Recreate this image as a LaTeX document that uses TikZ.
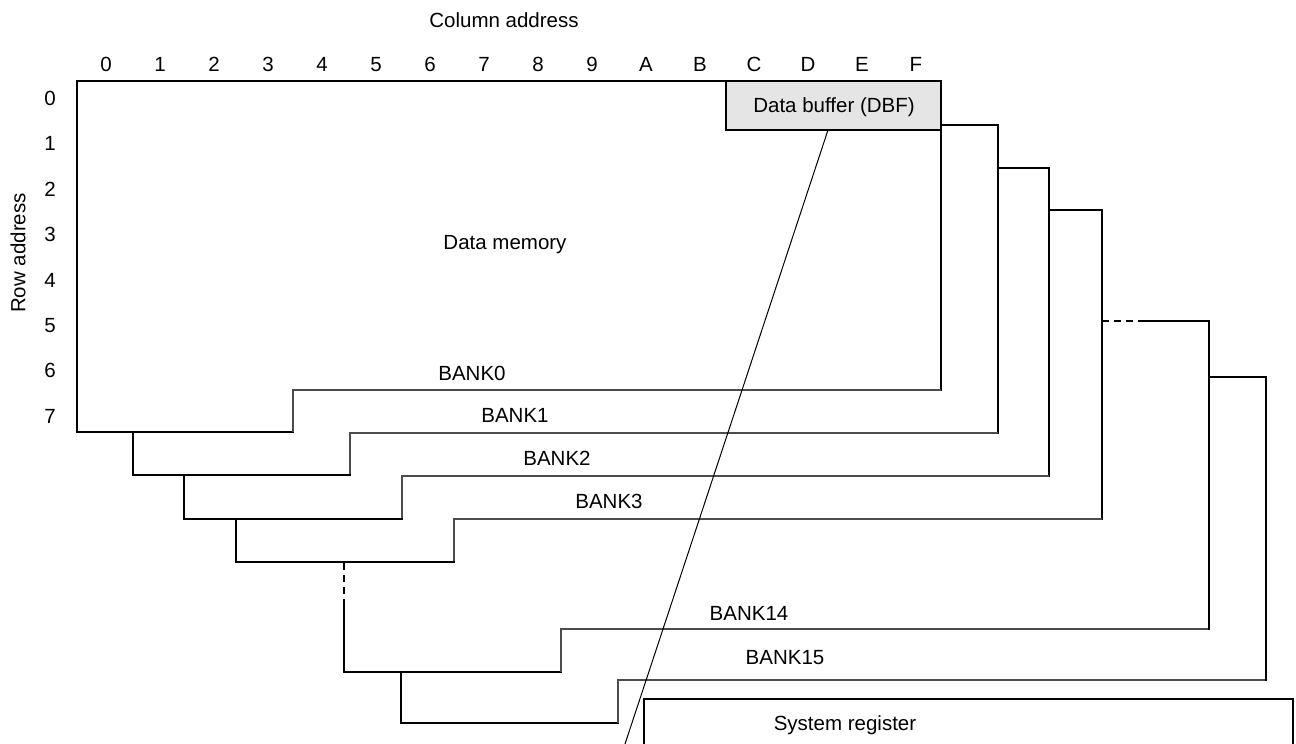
\documentclass[tikz,border=0pt]{standalone}
\usepackage{fontspec}
\setmainfont{Liberation Sans}
\begin{document}
\begin{tikzpicture}[x=1pt,y=-1pt,
  lbl/.style={font=\fontsize{20.5}{24}\selectfont, inner sep=0pt},
  dig/.style={lbl, anchor=base},
  thickln/.style={line width=2.9pt, black, line join=miter, line cap=rect},
  thinln/.style={line width=1.2pt, black!70},
  dashln/.style={line width=2.9pt, black, dash pattern=on 7pt off 5pt},
  diag/.style={line width=1pt, black}]
\useasboundingbox (0,0) rectangle (1296,744);
% titles
\node[lbl] (coltitle) at (504,20) {Column address};
\node[lbl, rotate=90] (rowtitle) at (18,253) {Row address};
% column labels
\foreach \c [count=\i from 0] in {0,1,2,3,4,5,6,7,8,9,A,B,C,D,E,F}
  \node[dig] (col\i) at ({106+54*\i},71.5) {\c};
% row labels
\foreach \r in {0,...,7}
  \node[dig] (row\r) at (50,{105.5+45.4*\r}) {\r};
% data buffer
\fill[black!10] (726,81) rectangle (941,130);
\draw[thinln, black] (726,81) -- (726,130) -- (941,130);
\node[lbl] (dbf) at (834,107) {Data buffer (DBF)};
% BANK0
\draw[thickln] (293,432) -- (77,432) -- (77,81) -- (941,81) -- (941,390);
\draw[thinln] (941,390) -- (293,390) -- (293,432);
% BANK1
\draw[thickln] (941,125) -- (998,125) -- (998,433);
\draw[thinln] (998,433) -- (350,433) -- (350,475);
\draw[thickln] (350,475) -- (133,475) -- (133,432);
% BANK2
\draw[thickln] (998,168) -- (1049,168) -- (1049,476);
\draw[thinln] (1049,476) -- (402,476) -- (402,519);
\draw[thickln] (402,519) -- (184,519) -- (184,475);
% BANK3
\draw[thickln] (1049,210) -- (1102,210) -- (1102,519);
\draw[thinln] (1102,519) -- (454,519) -- (454,562);
\draw[thickln] (454,562) -- (236,562) -- (236,519);
% gap and BANK14
\draw[dashln] (344,563) -- (344,603);
\draw[thickln] (344,603) -- (344,672) -- (561,672);
\draw[thinln] (561,672) -- (561,629) -- (1209,629);
\draw[thickln] (1209,629) -- (1209,321) -- (1139,321);
\draw[dashln] (1102,321) -- (1139,321);
% BANK15
\draw[thickln] (401,672) -- (401,723) -- (618,723);
\draw[thinln] (618,723) -- (618,680) -- (1266,680);
\draw[thickln] (1266,680) -- (1266,377) -- (1209,377);
% system register
\draw[line width=1.2pt] (644,744) -- (644,699) -- (1293,699);
\draw[line width=2pt] (1293,698.4) -- (1293,744);
\node[lbl] (sysreg) at (845,725) {System register};
% labels
\node[lbl] (dmem) at (505,245) {Data memory};
\node[lbl] (b0) at (472,373) {BANK0};
\node[lbl] (b1) at (515,415) {BANK1};
\node[lbl] (b2) at (557,458) {BANK2};
\node[lbl] (b3) at (609,501) {BANK3};
\node[lbl] (b14) at (749,613) {BANK14};
\node[lbl] (b15) at (785,658) {BANK15};
% diagonal line
\coordinate (dstart) at (828,130);
\coordinate (dend) at (625,744);
\draw[diag] (dstart) -- (dend);
\end{tikzpicture}
\end{document}
